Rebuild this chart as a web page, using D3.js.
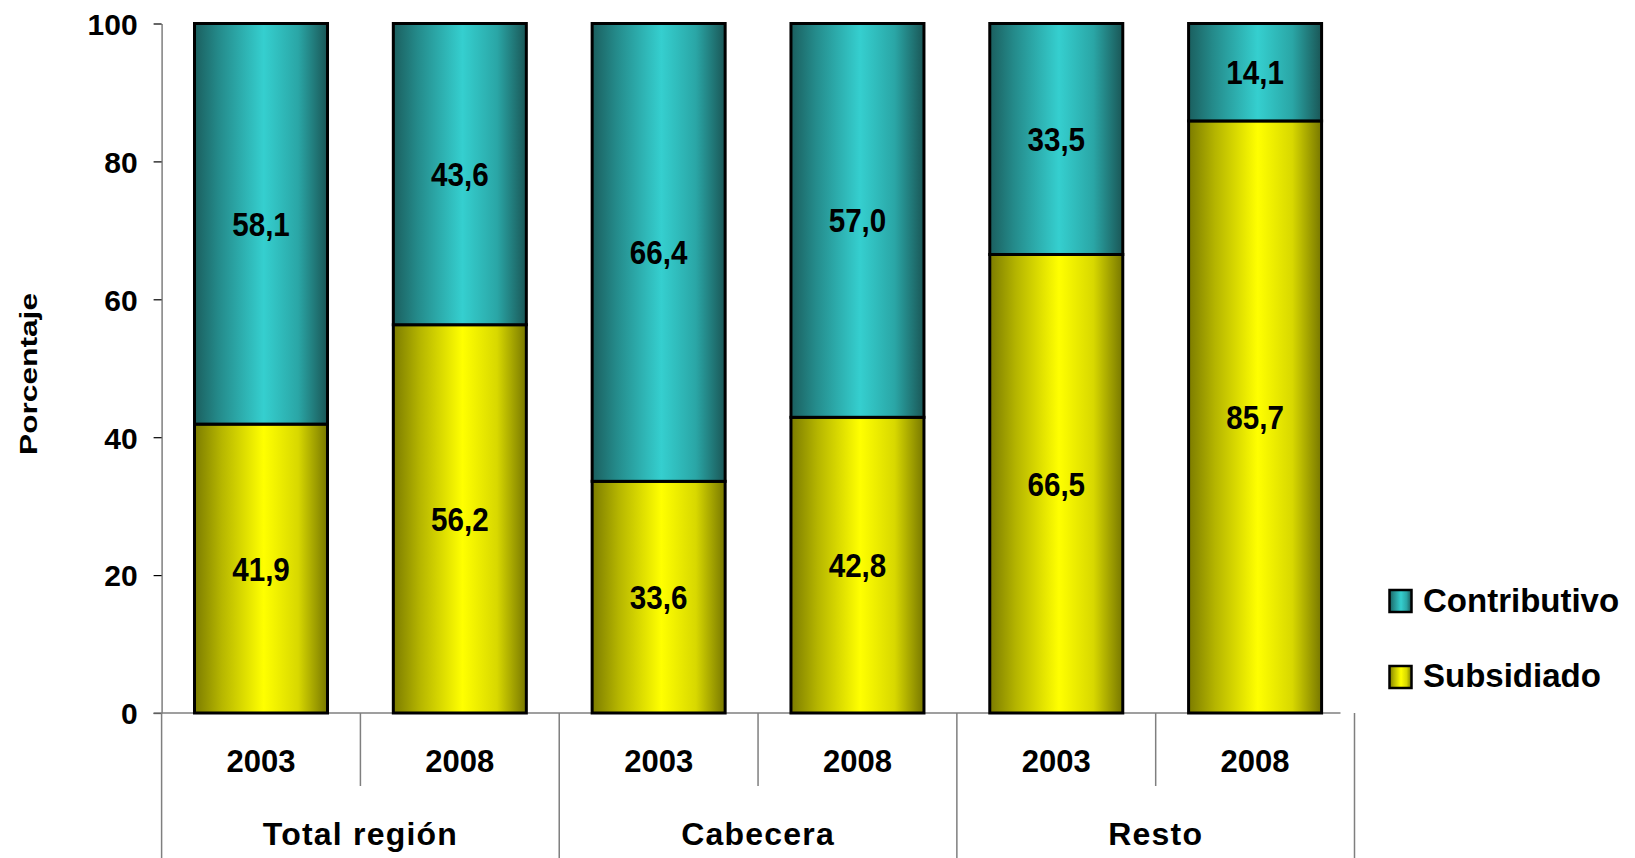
<!DOCTYPE html>
<html>
<head>
<meta charset="utf-8">
<script src="https://cdn.jsdelivr.net/npm/d3@7"></script>
<style>
  html, body { margin: 0; padding: 0; background: #fff; }
  svg { display: block; font-family: "Liberation Sans", Arial, sans-serif; font-weight: bold; }
</style>
</head>
<body>
<svg id="chart" width="1635" height="858"></svg>
<script>
// ---- data ----
const groups = ["Total región", "Cabecera", "Resto"];
const years = ["2003", "2008"];
const seriesNames = ["Subsidiado", "Contributivo"];
const subsidiado = [41.9, 56.2, 33.6, 42.8, 66.5, 85.7];
const contributivo = [58.1, 43.6, 66.4, 57.0, 33.5, 14.1];
const yTicks = [0, 20, 40, 60, 80, 100];
const yTitle = "Porcentaje";

(function () {
// ---- build rows ----
const rows = [];
groups.forEach((g, gi) => years.forEach((yr, yi) => {
  const i = gi * years.length + yi;
  rows.push({ key: g + "|" + yr, group: g, year: yr, Subsidiado: subsidiado[i], Contributivo: contributivo[i] });
}));

const svg = d3.select("#chart");
const plotLeft = 161.6, plotRight = 1354.5, plotTop = 23.5, zeroY = 713;

const x = d3.scaleBand().domain(rows.map(d => d.key)).range([plotLeft, plotRight]).paddingInner(0.331).paddingOuter(0.1655);
const y = d3.scaleLinear().domain([0, 100]).range([zeroY, plotTop]);

const stack = d3.stack().keys(seriesNames).offset(d3.stackOffsetExpand);
const stacked = stack(rows);

// gradients
const defs = svg.append("defs");
const grads = {
  Contributivo: [[0, "#1b5f5f"], [0.18, "#248a8a"], [0.52, "#35cfcf"], [0.78, "#2aa6a6"], [1, "#1a5656"]],
  Subsidiado: [[0, "#7c7c00"], [0.2, "#b5b500"], [0.52, "#ffff00"], [0.78, "#d8d800"], [1, "#777700"]]
};
Object.entries(grads).forEach(([k, stops]) => {
  const g = defs.append("linearGradient").attr("id", "g-" + k).attr("x1", "0").attr("x2", "1").attr("y1", "0").attr("y2", "0");
  stops.forEach(s => g.append("stop").attr("offset", s[0]).attr("stop-color", s[1]));
});

// y axis
const yAxis = d3.axisLeft(y).tickValues(yTicks).tickSize(8).tickPadding(16).tickSizeOuter(0);
const ya = svg.append("g").attr("transform", `translate(${plotLeft},0)`).call(yAxis);
ya.select(".domain").attr("stroke", "#7f7f7f").attr("stroke-width", 1.5);
ya.selectAll(".tick line").attr("stroke", "#000").attr("stroke-width", 1.2);
ya.selectAll(".tick text").attr("font-size", 30).attr("font-weight", "bold").attr("fill", "#000")
  .attr("font-family", "Liberation Sans, Arial, sans-serif").attr("dy", "0.36em");

// baseline
svg.append("line").attr("x1", plotLeft - 8).attr("x2", plotRight - 14).attr("y1", zeroY).attr("y2", zeroY)
  .attr("stroke", "#7f7f7f").attr("stroke-width", 1.5);

// category dividers
const step = x.step();
const bounds = rows.map((d, i) => plotLeft + i * step).concat([plotRight]);
bounds.forEach((bx, i) => {
  const isGroup = i % years.length === 0;
  svg.append("line").attr("x1", bx).attr("x2", bx).attr("y1", zeroY).attr("y2", isGroup ? 858 : 786)
    .attr("stroke", "#7f7f7f").attr("stroke-width", 1.5);
});

// bars
stacked.forEach(layer => {
  svg.append("g").selectAll("rect").data(layer).join("rect")
    .attr("x", d => x(d.data.key))
    .attr("width", x.bandwidth())
    .attr("y", d => y(d[1] * 100))
    .attr("height", d => y(d[0] * 100) - y(d[1] * 100))
    .attr("fill", `url(#g-${layer.key})`)
    .attr("stroke", "#000").attr("stroke-width", 3);
});

// data labels
stacked.forEach(layer => {
  svg.append("g").selectAll("text").data(layer).join("text")
    .attr("transform", d => `translate(${x(d.data.key) + x.bandwidth() / 2},${y((d[0] + d[1]) / 2 * 100) + 12}) scale(0.87,1)`)
    .attr("text-anchor", "middle").attr("font-size", 34).attr("fill", "#000")
    .text(d => d.data[layer.key].toFixed(1).replace(".", ","));
});

// year labels
svg.append("g").selectAll("text").data(rows).join("text")
  .attr("x", d => x(d.key) + x.bandwidth() / 2).attr("y", 771.5)
  .attr("text-anchor", "middle").attr("font-size", 31).attr("fill", "#000")
  .text(d => d.year);

// group labels
svg.append("g").selectAll("text").data(groups).join("text")
  .attr("x", (g, i) => plotLeft + (i + 0.5) * step * years.length).attr("y", 845)
  .attr("text-anchor", "middle").attr("font-size", 32).attr("letter-spacing", 1.2).attr("fill", "#000")
  .text(g => g);

// y title
svg.append("text").attr("transform", "translate(37,374) rotate(-90)")
  .attr("text-anchor", "middle").attr("font-size", 24).attr("fill", "#000")
  .attr("textLength", 162).attr("lengthAdjust", "spacingAndGlyphs")
  .text(yTitle);

// legend
const legendItems = [["Contributivo", 590, 611.7], ["Subsidiado", 666, 686.7]];
legendItems.forEach(([name, sy, ty]) => {
  svg.append("rect").attr("x", 1389.5).attr("y", sy).attr("width", 22).attr("height", 22)
    .attr("fill", `url(#g-${name})`).attr("stroke", "#000").attr("stroke-width", 2.5);
  svg.append("text").attr("x", 1423).attr("y", ty).attr("font-size", 33).attr("fill", "#000").text(name);
});
})();
</script>
</body>
</html>
